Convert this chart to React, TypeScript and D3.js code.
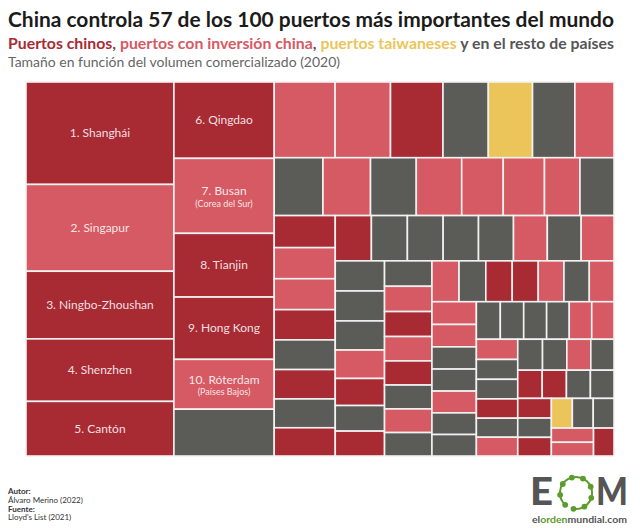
import React, { useRef, useEffect } from "react";
import * as d3 from "d3";

// TEU movidos en 2020 (millones), ranking Lloyd's List 2021, en orden
const portValues: number[] = [
  43.5, 36.87, 28.72, 26.55, 23.19, 22.0, 21.59, 18.35, 17.95, 14.35,
  13.48, 13.24, 12.04, 11.41, 9.85, 9.62, 9.21, 8.5, 8.1, 7.9,
  7.6, 7.55, 6.9, 6.85, 5.9, 5.65, 5.62, 5.45, 5.42, 5.3,
  5.2, 5.15, 5.05, 4.95, 4.7, 4.68, 4.65, 4.6, 4.55, 4.4,
  4.4, 4.27, 4.26, 4.24, 4.12, 4.02, 3.83, 3.62, 3.52, 3.46,
  3.44, 3.4, 3.32, 3.28, 3.25, 3.22, 3.19, 3.18, 3.14, 3.1,
  3.05, 3.02, 2.97, 2.9, 2.9, 2.86, 2.83, 2.81, 2.78, 2.76,
  2.74, 2.58, 2.52, 2.47, 2.44, 2.42, 2.4, 2.4, 2.36, 2.33,
  2.29, 2.26, 2.23, 2.2, 2.16, 2.13, 2.06, 1.98, 1.96, 1.94,
  1.91, 1.9, 1.86, 1.8, 1.79, 1.78, 1.77, 1.72, 1.66, 1.64,
];

// c = chino, i = inversión china, t = taiwanés, r = resto
const portGroups: string[] = [
  "c", "i", "c", "c", "c", "c", "i", "c", "c", "i",
  "r", "i", "i", "c", "r", "t", "r", "i", "r", "i",
  "r", "i", "i", "i", "i", "r", "c", "i", "i", "c",
  "r", "c", "r", "c", "c", "r", "r", "r", "r", "i",
  "r", "i", "r", "r", "r", "i", "c", "r", "c", "r",
  "i", "c", "i", "c", "r", "i", "r", "i", "r", "c",
  "c", "i", "r", "i", "i", "i", "r", "r", "i", "r",
  "r", "r", "r", "r", "r", "i", "i", "i", "r", "r",
  "c", "r", "i", "r", "r", "i", "r", "c", "c", "r",
  "r", "c", "r", "c", "t", "r", "r", "i", "i", "c",
];

const portLabels: string[] = [
  "1. Shanghái", "2. Singapur", "3. Ningbo-Zhoushan", "4. Shenzhen", "5. Cantón",
  "6. Qingdao", "7. Busan", "8. Tianjin", "9. Hong Kong", "10. Róterdam",
];
const portNotes: string[] = ["", "", "", "", "", "", "(Corea del Sur)", "", "", "(Países Bajos)"];

const groupColors: Record<string, string> = {
  c: "#a82b34",
  i: "#d65a63",
  t: "#ebc55a",
  r: "#5b5c57",
};

const FONT = "Lato, 'Open Sans', sans-serif";

const App = () => {
  const svgRef = useRef<SVGSVGElement | null>(null);

  useEffect(() => {
    const width = 640;
    const height = 528;
    const box = { x0: 26, y0: 82, x1: 614, y1: 456 };

    const svg = d3.select(svgRef.current);
    svg.selectAll("*").remove();
    svg.attr("width", width).attr("height", height);

    // the original treemap was laid out narrower and then stretched sideways
    const layoutH = 100;
    const layoutW = layoutH * 1.347;

    const root = d3
      .hierarchy<any>({ children: portValues.map((v, i) => ({ value: v, i })) })
      .sum((d) => d.value ?? 0);

    d3.treemap<any>().tile(d3.treemapSquarify).size([layoutW, layoutH])(root);

    const x = d3.scaleLinear().domain([0, layoutW]).range([box.x0, box.x1]);
    const y = d3.scaleLinear().domain([0, layoutH]).range([box.y0, box.y1]);

    const leaves = root.leaves() as any[];

    svg
      .append("g")
      .selectAll("rect")
      .data(leaves)
      .join("rect")
      .attr("x", (d) => x(d.x0))
      .attr("y", (d) => y(d.y0))
      .attr("width", (d) => x(d.x1) - x(d.x0))
      .attr("height", (d) => y(d.y1) - y(d.y0))
      .attr("fill", (d) => groupColors[portGroups[d.data.i]])
      .attr("stroke", "#f2f2f2")
      .attr("stroke-width", 1.6);

    const labels = svg
      .append("g")
      .selectAll("g")
      .data(leaves.filter((d) => d.data.i < portLabels.length))
      .join("g")
      .attr(
        "transform",
        (d) => `translate(${(x(d.x0) + x(d.x1)) / 2},${(y(d.y0) + y(d.y1)) / 2})`
      )
      .style("font-family", FONT)
      .attr("text-anchor", "middle")
      .attr("fill", "#ffffff")
      .attr("fill-opacity", 0.86);

    labels
      .append("text")
      .attr("dy", (d) => (portNotes[d.data.i] ? "-0.05em" : "0.35em"))
      .style("font-size", "12px")
      .text((d) => portLabels[d.data.i]);

    labels
      .filter((d) => portNotes[d.data.i] !== "")
      .append("text")
      .attr("dy", "11px")
      .style("font-size", "9px")
      .text((d) => portNotes[d.data.i]);

    // cabecera
    svg
      .append("text")
      .attr("x", 8)
      .attr("y", 27)
      .attr("textLength", 606)
      .attr("lengthAdjust", "spacingAndGlyphs")
      .style("font-family", FONT)
      .style("font-size", "21px")
      .style("font-weight", "bold")
      .attr("fill", "#1b1b1b")
      .text("China controla 57 de los 100 puertos más importantes del mundo");

    // subtítulo por partes, estirado en conjunto hasta el ancho del título
    const sub = svg.append("g");
    const parts: [string, string][] = [
      ["Puertos chinos", groupColors.c],
      [", ", "#555555"],
      ["puertos con inversión china", groupColors.i],
      [", ", "#555555"],
      ["puertos taiwaneses", groupColors.t],
      [" y en el resto de países", "#555555"],
    ];
    let cum = 0;
    parts.forEach(([t, c]) => {
      const node = sub
        .append("text")
        .attr("x", cum)
        .attr("y", 0)
        .style("font-family", FONT)
        .style("font-size", "16px")
        .style("font-weight", "bold")
        .style("white-space", "pre")
        .attr("fill", c)
        .text(t)
        .node() as SVGTextElement;
      cum += node.getComputedTextLength();
    });
    const sx = cum > 0 ? 606 / cum : 1;
    sub.attr("transform", `translate(8,49) scale(${sx},1)`);

    svg
      .append("text")
      .attr("x", 8)
      .attr("y", 67)
      .attr("textLength", 332)
      .attr("lengthAdjust", "spacingAndGlyphs")
      .style("font-family", FONT)
      .style("font-size", "13px")
      .attr("fill", "#666666")
      .text("Tamaño en función del volumen comercializado (2020)");

    // pie
    const foot = svg
      .append("g")
      .style("font-family", FONT)
      .style("font-size", "8px")
      .attr("fill", "#333333");
    const footLines: [string, boolean, number][] = [
      ["Autor:", true, 494],
      ["Álvaro Merino (2022)", false, 503],
      ["Fuente:", true, 511.5],
      ["Lloyd's List (2021)", false, 520],
    ];
    footLines.forEach(([t, b, yy]) =>
      foot
        .append("text")
        .attr("x", 8)
        .attr("y", yy)
        .style("font-weight", b ? "bold" : "normal")
        .text(t)
    );

    // logo EOM
    const logo = svg.append("g");
    logo
      .append("text")
      .attr("x", 530)
      .attr("y", 505)
      .attr("textLength", 23)
      .attr("lengthAdjust", "spacingAndGlyphs")
      .style("font-family", FONT)
      .style("font-size", "37px")
      .style("font-weight", 900)
      .attr("fill", "#555555")
      .text("E");
    logo
      .append("text")
      .attr("x", 596)
      .attr("y", 505)
      .attr("textLength", 32)
      .attr("lengthAdjust", "spacingAndGlyphs")
      .style("font-family", FONT)
      .style("font-size", "37px")
      .style("font-weight", 900)
      .attr("fill", "#555555")
      .text("M");
    const cx = 576;
    const cy = 493;
    const r = 16;
    const green = "#5c9b2d";
    const arc = d3
      .arc()
      .innerRadius(r)
      .outerRadius(r)
      .startAngle(-2.4)
      .endAngle(3.3);
    logo
      .append("path")
      .attr("transform", `translate(${cx},${cy})`)
      .attr("d", arc({} as any) as string)
      .attr("fill", "none")
      .attr("stroke", green)
      .attr("stroke-width", 2);
    d3.range(9).forEach((k) => {
      const a = -2.4 + (k * 5.7) / 8;
      logo
        .append("circle")
        .attr("cx", cx + r * Math.sin(a))
        .attr("cy", cy - r * Math.cos(a))
        .attr("r", 2.9)
        .attr("fill", green);
    });
    const url = logo
      .append("text")
      .attr("x", 532)
      .attr("y", 523)
      .attr("textLength", 95)
      .attr("lengthAdjust", "spacingAndGlyphs")
      .style("font-family", FONT)
      .style("font-size", "10px")
      .style("font-weight", "bold");
    url.append("tspan").attr("fill", "#555555").text("el");
    url.append("tspan").attr("fill", green).text("orden");
    url.append("tspan").attr("fill", "#555555").text("mundial.com");
  }, []);

  return (
    <div style={{ position: "absolute", left: 0, top: 0 }}>
      <svg ref={svgRef} style={{ display: "block", background: "#ffffff" }} />
    </div>
  );
};

export default App;
